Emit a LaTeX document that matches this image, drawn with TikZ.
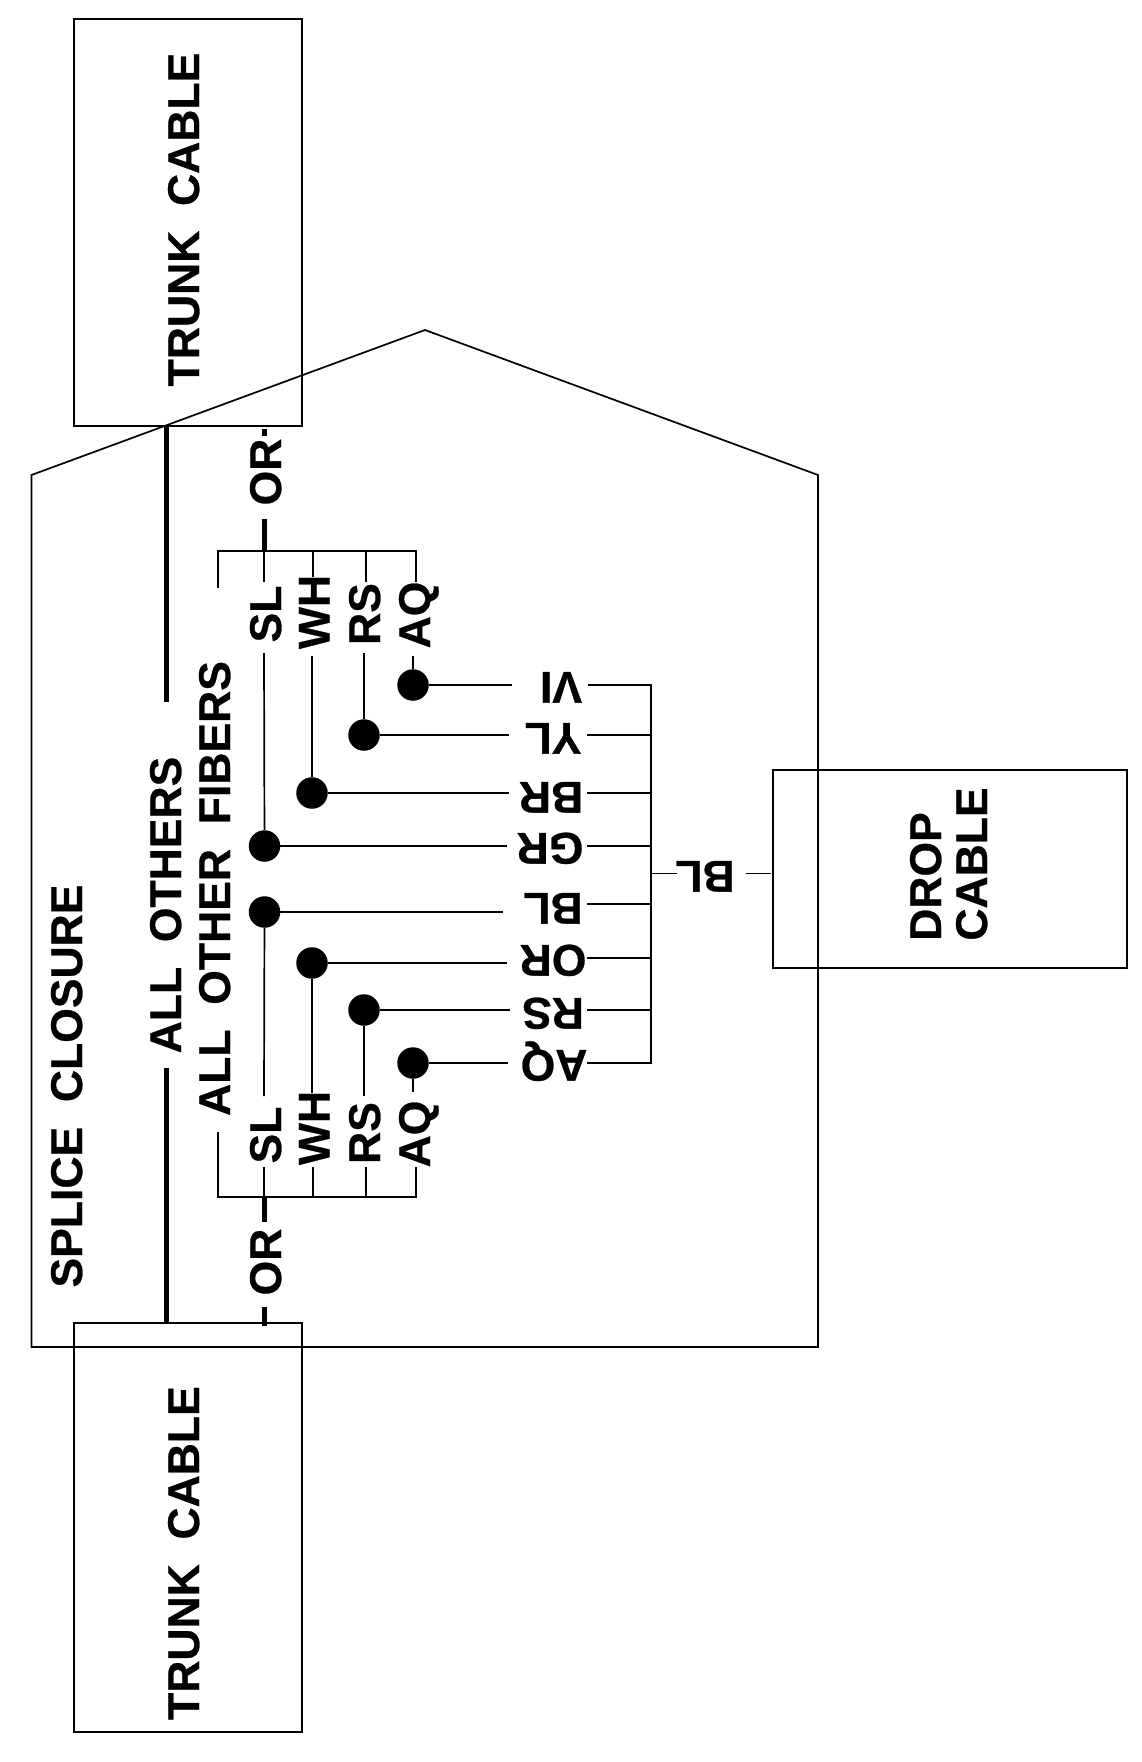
\documentclass[tikz,border=0pt]{standalone}
\usepackage{fontspec}
\setmainfont{Liberation Sans}[BoldFeatures={FakeBold=0.6}]
\begin{document}
\begin{tikzpicture}[x=1pt,y=-1pt,line join=miter,
  wire/.style={line width=1.7pt},
  thickwire/.style={line width=5pt},
  boxnode/.style={draw,line width=1.7pt,inner sep=0pt,fill=none},
  lbl/.style={font=\fontsize{44.5}{44.5}\selectfont\bfseries,inner sep=0pt,text height=32pt,text depth=0pt,anchor=center},
  up/.style={lbl,rotate=90},
  down/.style={lbl,rotate=180},
  dot/.style={circle,fill=black,draw=none,minimum size=31.5pt,inner sep=0pt}]
\useasboundingbox (0,0) rectangle (1142,1762);
\fill[white] (0,0) rectangle (1142,1762);
% boxes
\node[boxnode,minimum width=228pt,minimum height=407pt] (trunkA) at (188,222.5) {};
\node[boxnode,minimum width=228pt,minimum height=409pt] (trunkB) at (188,1527.5) {};
\node[boxnode,minimum width=354pt,minimum height=198pt] (drop) at (950,869) {};
% closure
\draw[line width=1.7pt] (31.5,475) -- (425,330) -- (818,475) -- (818,1347) -- (31.5,1347) -- cycle;
% box and closure labels
\node[up] (trunkAl) at (183,219.5) {TRUNK\ \ CABLE};
\node[up] (trunkBl) at (183,1553) {TRUNK\ \ CABLE};
\node[up] (dropl) at (925,876.5) {DROP};
\node[up] (cablel) at (971,864) {CABLE};
\node[up] (closl) at (66,1086) {SPLICE\ \ CLOSURE};
\node[up] (allothers) at (165,905) {ALL\ \ OTHERS};
\node[up] (allfib) at (214,888.5) {ALL\ \ OTHER\ \ FIBERS};
% upper fan labels
\node[up] (orA) at (265,472) {OR};
\node[up] (slA) at (265,614) {SL};
\node[up] (whA) at (313.5,612) {WH};
\node[up] (rsA) at (364,614) {RS};
\node[up] (aqA) at (414,615) {AQ};
% lower fan labels
\node[up] (orB) at (265,1262) {OR};
\node[up] (slB) at (265,1135) {SL};
\node[up] (whB) at (313.5,1128) {WH};
\node[up] (rsB) at (364,1133) {RS};
\node[up] (aqB) at (414,1134) {AQ};
% inverted labels
\node[down] (vi) at (561,688) {VI};
\node[down] (yl) at (553,739) {YL};
\node[down] (br) at (551,798) {BR};
\node[down] (gr) at (550,849) {GR};
\node[down] (bl) at (553,909) {BL};
\node[down] (or) at (553,961) {OR};
\node[down] (rs) at (553,1014) {RS};
\node[down] (aq) at (554,1066) {AQ};
\node[down] (blm) at (705,877) {BL};
% dots
\node[dot] (dVI) at (413,685) {};
\node[dot] (dYL) at (364,735) {};
\node[dot] (dBR) at (312,793) {};
\node[dot] (dGR) at (264.5,846) {};
\node[dot] (dBL) at (264.5,912) {};
\node[dot] (dOR) at (312,963) {};
\node[dot] (dRS) at (364,1010) {};
\node[dot] (dAQ) at (413,1063) {};
% trunk thick lines
\coordinate (thA1) at (166.5,426); \coordinate (thA2) at (166.5,702);
\coordinate (thB1) at (166.5,1068); \coordinate (thB2) at (166.5,1323);
\draw[thickwire] (thA1) -- (thA2);
\draw[thickwire] (thB1) -- (thB2);
% OR thick
\coordinate (orA1) at (264,429); \coordinate (orA2) at (264,436);
\coordinate (orA3) at (264,519); \coordinate (busA) at (264,551);
\draw[thickwire] (orA1) -- (orA2);
\draw[thickwire] (orA3) -- (busA);
\coordinate (busB) at (264,1197); \coordinate (orB3) at (264,1222);
\coordinate (orB1) at (264,1307); \coordinate (orB2) at (264,1326);
\draw[thickwire] (busB) -- (orB3);
\draw[thickwire] (orB1) -- (orB2);
% upper bus
\coordinate (bA0) at (218,551); \coordinate (bA3) at (313,551);
\coordinate (bA4) at (366,551); \coordinate (bA5) at (416,551);
\draw[wire] (218,588) -- (bA0) -- (bA5) -- (416,582);
\draw[wire] (busA) -- (264,582);
\draw[wire] (bA3) -- (313,577);
\draw[wire] (bA4) -- (366,582);
% lower bus
\coordinate (bB0) at (218,1197); \coordinate (bB3) at (313,1197);
\coordinate (bB4) at (366,1197); \coordinate (bB5) at (416,1197);
\draw[wire] (218,1132) -- (bB0) -- (bB5) -- (416,1167);
\draw[wire] (busB) -- (264,1167);
\draw[wire] (bB3) -- (313,1167);
\draw[wire] (bB4) -- (366,1167);
% verticals to dots
\draw[wire] (264,653) -- (dGR);
\draw[wire] (312,656) -- (dBR);
\draw[wire] (364,653) -- (dYL);
\draw[wire] (413,656) -- (dVI);
\draw[wire] (dBL) -- (264,1096);
\draw[wire] (dOR) -- (312,1093);
\draw[wire] (dRS) -- (364,1096);
\draw[wire] (dAQ) -- (413,1092);
% horizontals
\draw[wire] (dVI) -- (512,685);
\draw[wire] (dYL) -- (509,735);
\draw[wire] (dBR) -- (509,793);
\draw[wire] (dGR) -- (507,846);
\draw[wire] (dBL) -- (503,912);
\draw[wire] (dOR) -- (507,963);
\draw[wire] (dRS) -- (510,1010);
\draw[wire] (dAQ) -- (508,1063);
% right bus
\coordinate (rTop) at (651,685); \coordinate (rBot) at (651,1063);
\draw[wire] (588,685) -- (rTop) -- (rBot) -- (587,1063);
\draw[wire] (587,735) -- (651,735);
\draw[wire] (587,793) -- (651,793);
\draw[wire] (587,846) -- (651,846);
\draw[wire] (587,904) -- (651,904);
\draw[wire] (587,958) -- (651,958);
\draw[wire] (587,1010) -- (651,1010);
\draw[wire] (651,873.5) -- (677,873.5);
\draw[wire] (746,873.5) -- (771,873.5);
\end{tikzpicture}
\end{document}
